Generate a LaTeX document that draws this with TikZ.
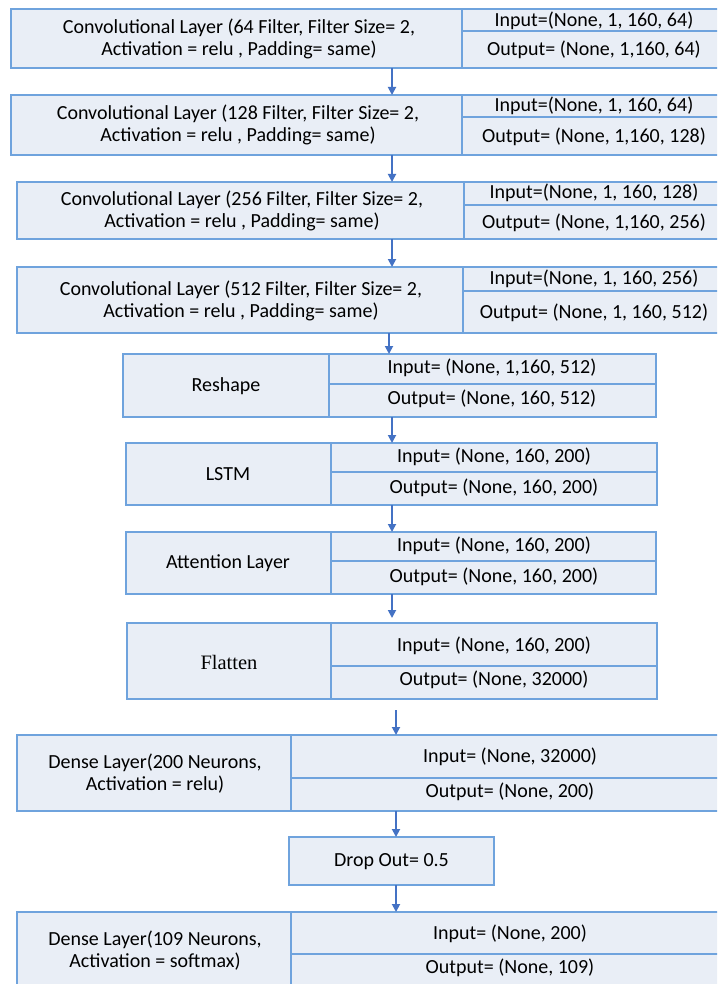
\documentclass[tikz,border=0pt]{standalone}
\usepackage{fontspec}
\setmainfont{Carlito}
\newfontfamily\serifface{Liberation Serif}
\usetikzlibrary{arrows.meta}
\definecolor{fillc}{HTML}{E9EEF6}
\definecolor{bordc}{HTML}{6FA3DD}
\definecolor{arrc}{HTML}{4472C4}
\tikzset{
  layerbox/.style={draw=bordc, fill=fillc, line width=1.5pt, inner sep=0pt, outer sep=0pt, anchor=north west},
  cellline/.style={draw=bordc, line width=1.5pt},
  txt/.style={font=\fontsize{20}{22}\selectfont, align=center, inner sep=0pt},
  arr/.style={draw=arrc, line width=1.8pt, -{Triangle[width=8pt,length=8pt]}},
}
\begin{document}
\begin{tikzpicture}[x=1pt,y=-1pt]
\useasboundingbox (0,0) rectangle (717,984);
\clip (0,0) rectangle (717,984);
\fill[white] (0,0) rectangle (717,984);

% ---- Conv 1
\node[layerbox, minimum width=716pt, minimum height=59pt] (b1) at (11,9) {};
\draw[cellline] (462,9) -- (462,68) (462,31) -- (727,31);
\node[txt] (b1l) at (239,39) {Convolutional Layer (64 Filter, Filter Size= 2,\\Activation = relu , Padding= same)};
\node[txt] (b1i) at (594,21) {Input=(None, 1, 160, 64)};
\node[txt] (b1o) at (594,50) {Output= (None, 1,160, 64)};

% ---- Conv 2
\node[layerbox, minimum width=716pt, minimum height=60pt] (b2) at (11,95) {};
\draw[cellline] (462,95) -- (462,155) (462,117) -- (727,117);
\node[txt] (b2l) at (238,125) {Convolutional Layer (128 Filter, Filter Size= 2,\\Activation = relu , Padding= same)};
\node[txt] (b2i) at (594,106) {Input=(None, 1, 160, 64)};
\node[txt] (b2o) at (594,137) {Output= (None, 1,160, 128)};

% ---- Conv 3
\node[layerbox, minimum width=710pt, minimum height=57pt] (b3) at (17,182) {};
\draw[cellline] (464,182) -- (464,239) (464,205) -- (727,205);
\node[txt] (b3l) at (242,211) {Convolutional Layer (256 Filter, Filter Size= 2,\\Activation = relu , Padding= same)};
\node[txt] (b3i) at (594,193) {Input=(None, 1, 160, 128)};
\node[txt] (b3o) at (594,223) {Output= (None, 1,160, 256)};

% ---- Conv 4
\node[layerbox, minimum width=710pt, minimum height=66pt] (b4) at (17,267) {};
\draw[cellline] (463,267) -- (463,333) (463,291) -- (727,291);
\node[txt] (b4l) at (241,301) {Convolutional Layer (512 Filter, Filter Size= 2,\\Activation = relu , Padding= same)};
\node[txt] (b4i) at (594,279) {Input=(None, 1, 160, 256)};
\node[txt] (b4o) at (594,313) {Output= (None, 1, 160, 512)};

% ---- Reshape
\node[layerbox, minimum width=533pt, minimum height=63pt] (b5) at (123,354) {};
\draw[cellline] (329,354) -- (329,417) (329,384) -- (656,384);
\node[txt] (b5l) at (226,386) {Reshape};
\node[txt] (b5i) at (492,368) {Input= (None, 1,160, 512)};
\node[txt] (b5o) at (492,399) {Output= (None, 160, 512)};

% ---- LSTM
\node[layerbox, minimum width=531pt, minimum height=62pt] (b6) at (126,443) {};
\draw[cellline] (331,443) -- (331,505) (331,472) -- (657,472);
\node[txt] (b6l) at (228,474) {LSTM};
\node[txt] (b6i) at (494,457) {Input= (None, 160, 200)};
\node[txt] (b6o) at (494,488) {Output= (None, 160, 200)};

% ---- Attention
\node[layerbox, minimum width=530pt, minimum height=62pt] (b7) at (126,532) {};
\draw[cellline] (331,532) -- (331,594) (331,561) -- (656,561);
\node[txt] (b7l) at (228,563) {Attention Layer};
\node[txt] (b7i) at (494,546) {Input= (None, 160, 200)};
\node[txt] (b7o) at (494,577) {Output= (None, 160, 200)};

% ---- Flatten
\node[layerbox, minimum width=530pt, minimum height=76pt] (b8) at (127,623) {};
\draw[cellline] (331,623) -- (331,699) (331,666) -- (657,666);
\node[font=\serifface\fontsize{20.5}{22}\selectfont, inner sep=0pt] (b8l) at (229,662) {Flatten};
\node[txt] (b8i) at (494,646) {Input= (None, 160, 200)};
\node[txt] (b8o) at (494,680) {Output= (None, 32000)};

% ---- Dense 1
\node[layerbox, minimum width=712pt, minimum height=76pt] (b9) at (17,735) {};
\draw[cellline] (291,735) -- (291,811) (291,778) -- (729,778);
\node[txt] (b9l) at (155,774) {Dense Layer(200 Neurons,\\Activation = relu)};
\node[txt] (b9i) at (510,757) {Input= (None, 32000)};
\node[txt] (b9o) at (510,792) {Output= (None, 200)};

% ---- Dropout
\node[layerbox, minimum width=205pt, minimum height=48pt] (b10) at (289,837) {};
\node[txt] (b10l) at (391.5,862) {Drop Out= 0.5};

% ---- Dense 2
\node[layerbox, minimum width=712pt, minimum height=78pt] (b11) at (17,912) {};
\draw[cellline] (291,912) -- (291,990) (291,954) -- (729,954);
\node[txt] (b11l) at (155,951) {Dense Layer(109 Neurons,\\Activation = softmax)};
\node[txt] (b11i) at (510,934) {Input= (None, 200)};
\node[txt] (b11o) at (510,968) {Output= (None, 109)};

% ---- arrows
\coordinate (xa) at (392,0);
\coordinate (xb) at (389,0);
\coordinate (xc) at (396,0);
\draw[arr] (b1.south -| xa) -- (b2.north -| xa);
\draw[arr] (b2.south -| xa) -- (b3.north -| xa);
\draw[arr] (b3.south -| xa) -- (b4.north -| xa);
\draw[arr] (b4.south -| xb) -- (b5.north -| xb);
\draw[arr] (b5.south -| xa) -- (b6.north -| xa);
\draw[arr] (b6.south -| xa) -- (b7.north -| xa);
\draw[arr, shorten >=5pt] (b7.south -| xa) -- (b8.north -| xa);
\draw[arr, shorten <=11pt] (b8.south -| xc) -- (b9.north -| xc);
\draw[arr] (b9.south -| xc) -- (b10.north -| xc);
\draw[arr] (b10.south -| xc) -- (b11.north -| xc);
\end{tikzpicture}
\end{document}
